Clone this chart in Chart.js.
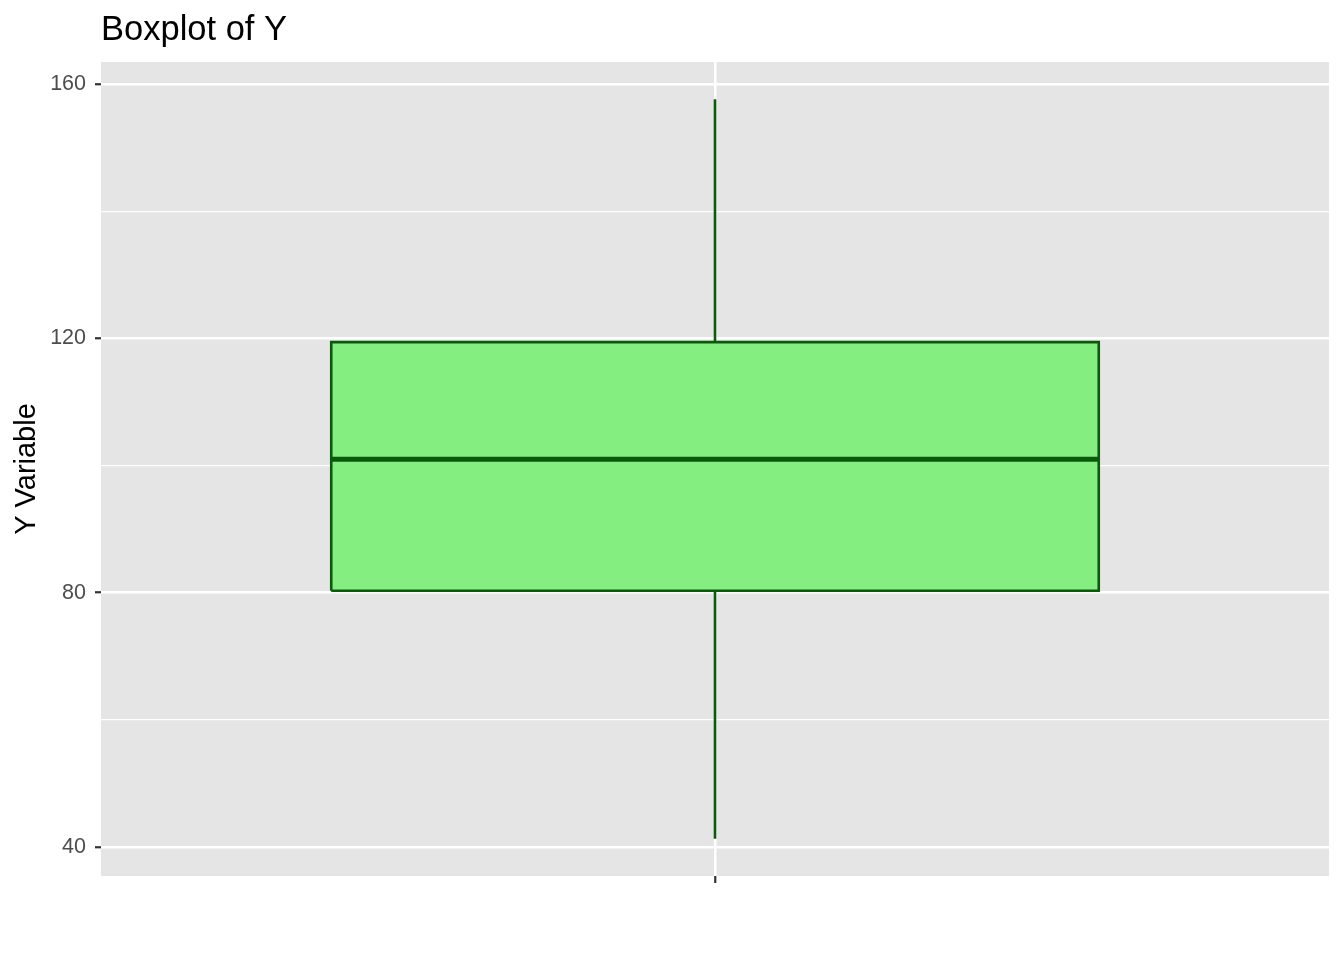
<!DOCTYPE html>
<html>
<head>
<meta charset="utf-8">
<script src="https://cdn.jsdelivr.net/npm/chart.js@4/dist/chart.umd.min.js"></script>
<style>
  html, body { margin: 0; padding: 0; background: #ffffff; }
  #wrap { width: 1344px; height: 960px; }
</style>
</head>
<body>
<div id="wrap"><canvas id="c" width="1344" height="960"></canvas></div>
<script>
// ---- data ----
const categories = [''];          // single group on the x axis
const groupPos = [1];             // x position of each group
const whiskerLow = [41.3];
const q1 = [80.3];
const median = [101.0];
const q3 = [119.4];
const whiskerHigh = [157.6];
const yMajorTicks = [40, 80, 120, 160];
const yMinorTicks = [60, 100, 140];
const yRange = [35.44, 163.46];
const xRange = [0.4, 1.6];

// ---- styles ----
const BOX_WIDTH = 0.75;
const FILL = '#85EE81';
const EDGE = '#0B5A0B';
const PANEL = '#E5E5E5';
const FONT = "'Liberation Sans', Arial, Helvetica, sans-serif";

const datasets = [];
groupPos.forEach((cx, i) => {
  const l = cx - BOX_WIDTH / 2, r = cx + BOX_WIDTH / 2;
  datasets.push({
    label: 'box fill', order: 10,
    data: [{x: l, y: q3[i]}, {x: r, y: q3[i]}],
    fill: {value: q1[i]}, backgroundColor: FILL,
    borderWidth: 0, pointRadius: 0, showLine: true
  });
  datasets.push({
    label: 'upper whisker', order: 8,
    data: [{x: cx, y: q3[i]}, {x: cx, y: whiskerHigh[i]}],
    borderColor: EDGE, borderWidth: 2.6, pointRadius: 0, showLine: true, fill: false
  });
  datasets.push({
    label: 'lower whisker', order: 8,
    data: [{x: cx, y: whiskerLow[i]}, {x: cx, y: q1[i]}],
    borderColor: EDGE, borderWidth: 2.6, pointRadius: 0, showLine: true, fill: false
  });
  datasets.push({
    label: 'box edge', order: 6,
    data: [{x: l, y: q1[i]}, {x: l, y: q3[i]}, {x: r, y: q3[i]}, {x: r, y: q1[i]}, {x: l, y: q1[i]}],
    borderColor: EDGE, borderWidth: 2.6, borderJoinStyle: 'miter',
    pointRadius: 0, showLine: true, fill: false
  });
  datasets.push({
    label: 'median', order: 4,
    data: [{x: l, y: median[i]}, {x: r, y: median[i]}],
    borderColor: EDGE, borderWidth: 5, pointRadius: 0, showLine: true, fill: false
  });
});

const panelBg = {
  id: 'panelBg',
  beforeDraw(chart) {
    const {ctx, chartArea: a} = chart;
    ctx.save();
    ctx.fillStyle = PANEL;
    ctx.fillRect(a.left, a.top, a.right - a.left, a.bottom - a.top);
    ctx.restore();
  }
};
const plotTitle = {
  id: 'plotTitle',
  afterDraw(chart) {
    const {ctx, chartArea: a} = chart;
    ctx.save();
    ctx.fillStyle = '#000000';
    ctx.font = '34.5px ' + FONT;
    ctx.textAlign = 'left';
    ctx.textBaseline = 'alphabetic';
    ctx.fillText('Boxplot of Y', a.left, 40);
    ctx.restore();
  }
};

const isMajor = v => yMajorTicks.includes(v);

new Chart(document.getElementById('c'), {
  type: 'scatter',
  data: {datasets},
  plugins: [panelBg, plotTitle],
  options: {
    responsive: false,
    animation: false,
    layout: {padding: {left: 0, right: 15, top: 62, bottom: 0}},
    plugins: {legend: {display: false}, tooltip: {enabled: false}, title: {display: false}},
    scales: {
      x: {
        type: 'linear', min: xRange[0], max: xRange[1],
        afterBuildTicks: s => { s.ticks = groupPos.map(v => ({value: v})); },
        afterFit: s => { s.height = 84; },
        ticks: {callback: (v) => { const k = groupPos.indexOf(v); return k >= 0 ? categories[k] : ''; },
                font: {size: 22, family: FONT}, color: '#4D4D4D', padding: 4},
        grid: {color: '#FFFFFF', lineWidth: 2.5, tickColor: '#333333', tickWidth: 2.2, tickLength: 7},
        border: {display: false}
      },
      y: {
        type: 'linear', min: yRange[0], max: yRange[1],
        afterBuildTicks: s => {
          s.ticks = yMajorTicks.concat(yMinorTicks).sort((a, b) => a - b).map(v => ({value: v}));
        },
        afterFit: s => { s.width = 101; },
        ticks: {
          callback: v => isMajor(v) ? String(v) : '',
          font: {size: 21.5, family: FONT}, color: '#4D4D4D', padding: 9
        },
        grid: {
          color: '#FFFFFF',
          lineWidth: c => isMajor(c.tick.value) ? 2.5 : 1.2,
          tickColor: c => isMajor(c.tick.value) ? '#333333' : 'rgba(0,0,0,0)',
          tickWidth: 2.2, tickLength: 6
        },
        border: {display: false},
        title: {display: true, text: 'Y Variable', color: '#000000',
                font: {size: 29, family: FONT}, padding: {top: 10, bottom: 0}}
      }
    }
  }
});
</script>
</body>
</html>
